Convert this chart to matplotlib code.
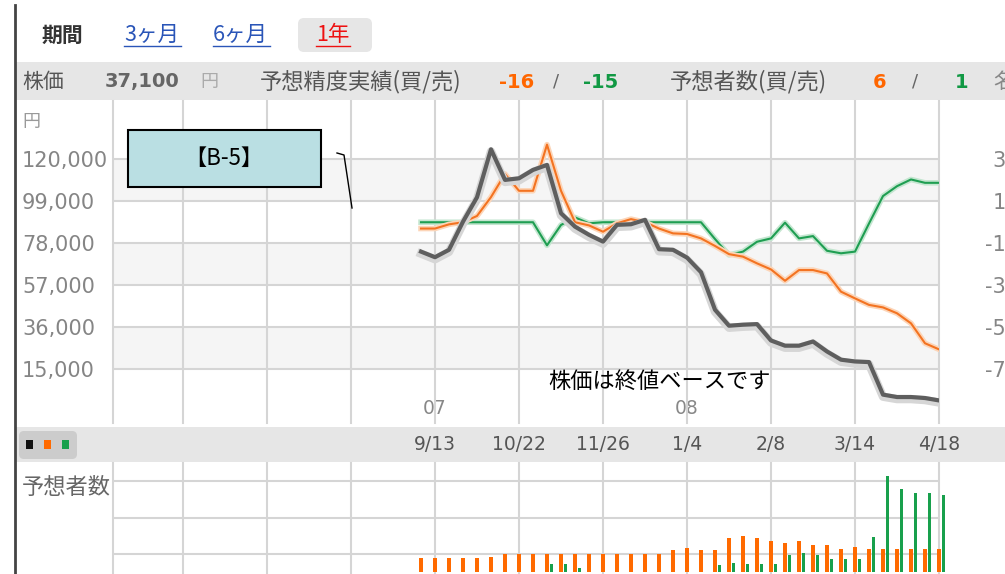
import numpy as np
import matplotlib
matplotlib.use('Agg')
import matplotlib.pyplot as plt
import matplotlib.patheffects as pe
import matplotlib.transforms as mtrans
from matplotlib.patches import Rectangle, FancyBboxPatch

plt.rcParams['font.family'] = ['DejaVu Sans', 'Noto Sans CJK JP']
JP = ['Noto Sans CJK JP', 'DejaVu Sans']

# 株価 (円) - 週ごと
price = [73800, 71000, 74700, 88800, 101000, 125000, 109700, 110500, 114700, 117200,
         93000, 86300, 82200, 78800, 87200, 87500, 89700, 75000, 74700, 70800,
         63500, 44700, 36700, 37200, 37500, 29300, 26700, 26700, 28800, 23800,
         19700, 18800, 18500, 2200, 1000, 1000, 500, -700]

# 予想精度実績 (買 / 売)
acc_buy = [-3, -3, -1, 0, 3, 12, 23, 15, 15, 37,
           15, 0, -1.5, -4.5, -0.5, 1.5, 0, -3, -5.3, -5.6,
           -7.7, -11.3, -15.2, -16.4, -19.6, -22.5, -27.9, -22.8, -22.8, -24.4,
           -33.1, -36.3, -39.4, -40.6, -43.4, -48.2, -57.7, -60.6]
acc_sell = [0, 0, 0, 0, 0, 0, 0, 0, 0, -11,
            -1.3, 2.3, -0.5, 0, 0, 0, 0, 0, 0, 0,
            0, -8, -15.6, -14, -9.3, -7.7, -0.2, -7.7, -6.6, -13.6,
            -14.8, -14, -0.6, 12.5, 17.2, 20.4, 18.8, 18.8]

# 予想者数 (買 / 売)
cnt_buy = [4, 4, 4, 4, 4, 4.2, 5, 5, 5, 5,
           5, 5, 5, 5, 5, 5, 5, 5, 6.1, 6.5,
           6.2, 6.1, 9.3, 10, 9.3, 8.7, 7.9, 8.7, 7.5, 7.5,
           6.4, 6.8, 6.4, 6.4, 6.4, 6.4, 6.4, 6.4]
cnt_sell = [0, 0, 0, 0, 0, 0, 0, 0, 0, 2.2,
            2.2, 1.2, 0, 0, 0, 0, 0, 0, 0, 0,
            0, 1.8, 2.4, 2.3, 2.3, 2.2, 4.7, 5.2, 4.7, 3.6,
            3.6, 3.6, 9.6, 26.6, 22.9, 21.9, 21.9, 21.3]

price_ticks = [120000, 99000, 78000, 57000, 36000, 15000]
acc_ticks = [30, 10, -10, -30, -50, -70]
cnt_grid = [5, 15, 25]
date_labels = ['9/13', '10/22', '11/26', '1/4', '2/8', '3/14', '4/18']
date_pos = [1, 7, 13, 19, 25, 31, 37]
year_labels = ['07', '08']
year_pos = [1, 19]
grid_x = [-22, -17, -11, -5, 1, 7, 13, 19, 25, 31, 37]

ORANGE = '#f37321'
GREEN = '#1f9e52'
GRID = '#d5d5d5'
BAND = '#f5f5f5'

W, H = 1005, 574
fig = plt.figure(figsize=(W / 100, H / 100), dpi=100)


def pax(x0, y0, x1, y1, **kw):
    # axes placed with pixel coordinates (top-left origin)
    return fig.add_axes([x0 / W, 1 - y1 / H, (x1 - x0) / W, (y1 - y0) / H], **kw)


# fond / en-têtes
bg = pax(0, 0, W, H)
bg.set_xlim(0, W)
bg.set_ylim(H, 0)
bg.axis('off')

bg.add_patch(Rectangle((16, 62), W - 16, 38, color='#e6e6e6', lw=0))
bg.add_patch(Rectangle((16, 427), W - 16, 35, color='#e6e6e6', lw=0))
bg.plot([15, 15], [5, H], color='#444444', lw=2)
bg.add_patch(FancyBboxPatch((298, 18), 74, 34, boxstyle='round,pad=0,rounding_size=6',
                            color='#e6e6e6', lw=0))
bg.add_patch(FancyBboxPatch((19, 431), 58, 28, boxstyle='round,pad=0,rounding_size=5',
                            color='#cccccc', lw=0))
for sx, sc in zip([26, 44, 62], ['#111111', '#ff6a00', '#18a04c']):
    bg.add_patch(Rectangle((sx, 440), 7, 9, color=sc, lw=0))

bg.text(42, 35, '期間', fontsize=15, fontweight='bold', color='#333333', family=JP, va='center')
for tx, tw, tt, tc in [(124, 57, '3ヶ月', '#2a55b8'), (213, 57, '6ヶ月', '#2a55b8'), (316, 34, '1年', '#ee1111')]:
    bg.text(tx, 35, tt, fontsize=15.5, color=tc, family=JP, va='center')
    bg.plot([tx, tx + tw], [46, 46], color=tc, lw=1)

bg.text(22, 82, '株価', fontsize=15, color='#555555', family=JP, va='center')
bg.text(105, 82, '37,100', fontsize=14, fontweight='bold', color='#666666', va='center')
bg.text(200, 82, '円', fontsize=13, color='#aaaaaa', family=JP, va='center')
bg.text(260, 82, '予想精度実績(買/売)', fontsize=16, color='#555555', family=JP, va='center')
bg.text(499, 82, '-16', fontsize=14, fontweight='bold', color='#ff6600', va='center')
bg.text(553, 82, '/', fontsize=13, color='#666666', va='center')
bg.text(583, 82, '-15', fontsize=14, fontweight='bold', color='#119944', va='center')
bg.text(670, 82, '予想者数(買/売)', fontsize=16, color='#555555', family=JP, va='center')
bg.text(873, 82, '6', fontsize=14, fontweight='bold', color='#ff6600', va='center')
bg.text(912, 82, '/', fontsize=13, color='#666666', va='center')
bg.text(955, 82, '1', fontsize=14, fontweight='bold', color='#119944', va='center')
bg.text(993, 82, '名', fontsize=15, color='#888888', family=JP, va='center')

bg.text(22, 122, '円', fontsize=13, color='#999999', family=JP, va='center')
bg.text(22, 487, '予想者数', fontsize=16, color='#666666', family=JP, va='center')

# graphique principal
x = np.arange(len(price))
ax = pax(113, 101, 939, 423)
ax.set_xlim(-22, 37)
ax.set_ylim(-12000, 149200)
ax.patch.set_visible(False)
for s in ax.spines.values():
    s.set_visible(False)
for lo, hi in zip(price_ticks[1::2], price_ticks[0::2]):
    ax.axhspan(lo, hi, color=BAND, lw=0, zorder=0)
for t in price_ticks:
    ax.axhline(t, color=GRID, lw=1.5, zorder=1)
for gx in grid_x:
    ax.axvline(gx, color=GRID, lw=1.5, zorder=1, clip_on=False)
ax.set_xticks([])
ax.set_yticks(price_ticks)
ax.set_yticklabels([f'{v:,}' for v in price_ticks])
ax.tick_params(axis='y', length=0, pad=65.5, labelsize=15, labelcolor='#858585')
for lbl in ax.get_yticklabels():
    lbl.set_ha('left')

ax_r = ax.twinx()
ax_r.set_ylim(30 + (-12000 - 120000) / 1050, 30 + (149200 - 120000) / 1050)
for s in ax_r.spines.values():
    s.set_visible(False)
ax_r.set_yticks(acc_ticks)
ax_r.set_yticklabels([str(v) for v in acc_ticks])
ax_r.tick_params(axis='y', length=0, pad=57.6, labelsize=15, labelcolor='#858585')
for lbl in ax_r.get_yticklabels():
    lbl.set_ha('right')
ax_r.plot(x, acc_sell, color=GREEN, lw=1.5,
          path_effects=[pe.Stroke(linewidth=4, foreground='#c4e6d0'), pe.Normal()])
ax_r.plot(x, acc_buy, color=ORANGE, lw=1.5,
          path_effects=[pe.Stroke(linewidth=4, foreground='#fcd5b8'), pe.Normal()])

ax_p = pax(113, 101, 939, 423, sharex=ax, sharey=ax)
ax_p.axis('off')
ax_p.plot(x, price, color='#5e5e5e', lw=3, solid_joinstyle='round',
          path_effects=[pe.Stroke(offset=(0, -1.5), linewidth=6, foreground='#d6d6d6'), pe.Normal()])

yr_tr = mtrans.blended_transform_factory(ax.transData, bg.transData)
for p, lab in zip(year_pos, year_labels):
    bg.text(p, 408, lab, transform=yr_tr, fontsize=13.5, color='#888888', ha='center', va='center')

# 予想者数 (barres)
ax_b = pax(113, 463, 939, 574, sharex=ax)
ax_b.set_ylim(-0.55, 30.1)
ax_b.patch.set_visible(False)
for s in ax_b.spines.values():
    s.set_visible(False)
ax_b.set_xticks([])
ax_b.set_yticks([])
for v in cnt_grid:
    ax_b.axhline(v, color=GRID, lw=1.5, zorder=1)
for gx in grid_x:
    ax_b.axvline(gx, color=GRID, lw=1.5, zorder=1, clip_on=False)
ax_b.bar(x, cnt_buy, width=0.25, color='#ff6a00', zorder=2, clip_on=False)
ax_b.bar(x + 0.31, cnt_sell, width=0.26, color='#18a04c', zorder=2, clip_on=False)

dt_tr = mtrans.blended_transform_factory(ax_b.transData, bg.transData)
for p, lab in zip(date_pos, date_labels):
    bg.text(p, 444, lab, transform=dt_tr, fontsize=13.5, color='#555555', ha='center', va='center')

# premier plan
fg = pax(0, 0, W, H)
fg.set_xlim(0, W)
fg.set_ylim(H, 0)
fg.axis('off')
fg.add_patch(Rectangle((128, 130), 193, 57, facecolor='#badfe3', edgecolor='black', lw=1.5))
fg.text(224, 158, '【B-5】', fontsize=16, color='black', family=JP, ha='center', va='center')
fg.plot([337, 344, 352], [153, 155, 208], color='black', lw=1)
fg.text(548, 381, '株価は終値ベースです', fontsize=16, color='black', family=JP, va='center')

fig.savefig('out.png', dpi=100)
